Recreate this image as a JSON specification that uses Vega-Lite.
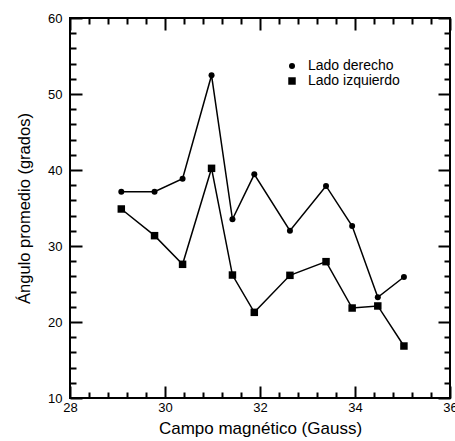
{
  "$schema": "https://vega.github.io/schema/vega-lite/v6.json",
  "autosize": {"type": "none"},
  "padding": {"left": 70, "top": 18, "right": 5, "bottom": 43},
  "width": 380,
  "height": 380,
  "data": {
    "values": [
      {"campo": 29.08, "angulo": 37.15, "lado": "Lado derecho"},
      {"campo": 29.78, "angulo": 37.15, "lado": "Lado derecho"},
      {"campo": 30.37, "angulo": 38.86, "lado": "Lado derecho"},
      {"campo": 30.98, "angulo": 52.46, "lado": "Lado derecho"},
      {"campo": 31.42, "angulo": 33.51, "lado": "Lado derecho"},
      {"campo": 31.88, "angulo": 39.43, "lado": "Lado derecho"},
      {"campo": 32.63, "angulo": 32.02, "lado": "Lado derecho"},
      {"campo": 33.39, "angulo": 37.9, "lado": "Lado derecho"},
      {"campo": 33.94, "angulo": 32.63, "lado": "Lado derecho"},
      {"campo": 34.48, "angulo": 23.25, "lado": "Lado derecho"},
      {"campo": 35.03, "angulo": 25.92, "lado": "Lado derecho"},
      {"campo": 29.08, "angulo": 34.87, "lado": "Lado izquierdo"},
      {"campo": 29.78, "angulo": 31.36, "lado": "Lado izquierdo"},
      {"campo": 30.37, "angulo": 27.59, "lado": "Lado izquierdo"},
      {"campo": 30.98, "angulo": 40.22, "lado": "Lado izquierdo"},
      {"campo": 31.42, "angulo": 26.18, "lado": "Lado izquierdo"},
      {"campo": 31.88, "angulo": 21.27, "lado": "Lado izquierdo"},
      {"campo": 32.63, "angulo": 26.14, "lado": "Lado izquierdo"},
      {"campo": 33.39, "angulo": 27.94, "lado": "Lado izquierdo"},
      {"campo": 33.94, "angulo": 21.84, "lado": "Lado izquierdo"},
      {"campo": 34.48, "angulo": 22.11, "lado": "Lado izquierdo"},
      {"campo": 35.03, "angulo": 16.84, "lado": "Lado izquierdo"}
    ]
  },
  "resolve": {"axis": {"x": "independent", "y": "independent"}},
  "layer": [
    {
      "mark": {"type": "line", "color": "black", "strokeWidth": 1.5},
      "encoding": {
        "x": {"field": "campo", "type": "quantitative", "scale": {"domain": [28, 36], "nice": false, "zero": false},
          "axis": {"orient": "bottom", "title": "Campo magnético (Gauss)", "titleFontSize": 17, "values": [28, 30, 32, 34, 36], "offset": -12, "tickSize": 12, "labelPadding": 3, "labelFlush": false, "titlePadding": 6}},
        "y": {"field": "angulo", "type": "quantitative", "scale": {"domain": [10, 60], "nice": false, "zero": false},
          "axis": {"orient": "left", "title": "Ángulo promedio (grados)", "values": [10, 20, 30, 40, 50, 60], "offset": -12, "tickSize": 12, "labelPadding": 8, "titlePadding": 15}},
        "detail": {"field": "lado"}
      }
    },
    {
      "mark": {"type": "point", "filled": true, "color": "black", "opacity": 1},
      "encoding": {
        "x": {"field": "campo", "type": "quantitative",
          "axis": {"orient": "bottom", "title": null, "labels": false, "values": [28.4, 28.8, 29.2, 29.6, 30.4, 30.8, 31.2, 31.6, 32.4, 32.8, 33.2, 33.6, 34.4, 34.8, 35.2, 35.6], "offset": -6, "tickSize": 6}},
        "y": {"field": "angulo", "type": "quantitative",
          "axis": {"orient": "left", "title": null, "labels": false, "values": [12, 14, 16, 18, 22, 24, 26, 28, 32, 34, 36, 38, 42, 44, 46, 48, 52, 54, 56, 58], "offset": -6, "tickSize": 6}},
        "shape": {"field": "lado", "type": "nominal", "title": null,
          "scale": {"domain": ["Lado derecho", "Lado izquierdo"], "range": ["circle", "square"]},
          "legend": {"orient": "none", "legendX": 215, "legendY": 41, "labelFontSize": 14, "labelFont": "Liberation Sans", "labelColor": "black", "labelOffset": 9, "rowPadding": 1, "symbolFillColor": "black", "symbolStrokeColor": "black"}},
        "size": {"field": "lado", "type": "nominal", "title": null,
          "scale": {"domain": ["Lado derecho", "Lado izquierdo"], "range": [36, 56]}}
      }
    },
    {
      "mark": {"type": "point", "opacity": 0},
      "encoding": {
        "x": {"field": "campo", "type": "quantitative",
          "axis": {"orient": "top", "title": null, "labels": false, "values": [28, 30, 32, 34, 36], "offset": -12, "tickSize": 12}},
        "y": {"field": "angulo", "type": "quantitative",
          "axis": {"orient": "right", "title": null, "labels": false, "values": [10, 20, 30, 40, 50, 60], "offset": -12, "tickSize": 12}}
      }
    },
    {
      "mark": {"type": "point", "opacity": 0},
      "encoding": {
        "x": {"field": "campo", "type": "quantitative",
          "axis": {"orient": "top", "title": null, "labels": false, "values": [28.4, 28.8, 29.2, 29.6, 30.4, 30.8, 31.2, 31.6, 32.4, 32.8, 33.2, 33.6, 34.4, 34.8, 35.2, 35.6], "offset": -6, "tickSize": 6}},
        "y": {"field": "angulo", "type": "quantitative",
          "axis": {"orient": "right", "title": null, "labels": false, "values": [12, 14, 16, 18, 22, 24, 26, 28, 32, 34, 36, 38, 42, 44, 46, 48, 52, 54, 56, 58], "offset": -6, "tickSize": 6}}
      }
    }
  ],
  "config": {
    "view": {"stroke": "black", "strokeWidth": 2},
    "axis": {
      "grid": false,
      "domain": false,
      "ticks": true,
      "tickColor": "black",
      "tickWidth": 2,
      "tickOpacity": 1,
      "labelColor": "black",
      "titleColor": "black",
      "labelFont": "Liberation Sans",
      "titleFont": "Liberation Sans",
      "labelFontSize": 13,
      "titleFontSize": 16.5,
      "titleFontWeight": "normal"
    }
  }
}
